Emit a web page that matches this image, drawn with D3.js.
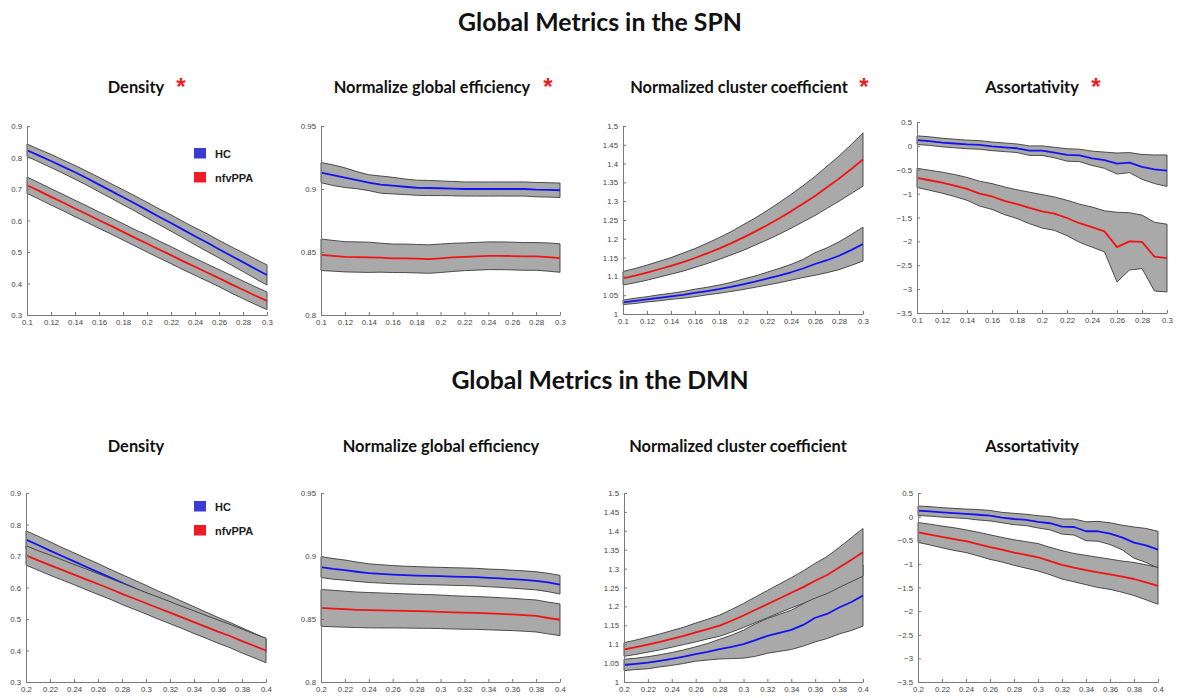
<!DOCTYPE html>
<html>
<head>
<meta charset="utf-8">
<script src="https://cdn.jsdelivr.net/npm/d3@7"></script>
<style>
  html, body { margin: 0; padding: 0; background: #fff; }
  svg { display: block; }
</style>
</head>
<body>
<div id="chart"></div>
<script>
// ── Data ────────────────────────────────────────────────────────────────
// sparsity thresholds
const X_SPN = [0.10, 0.11, 0.12, 0.13, 0.14, 0.15, 0.16, 0.17, 0.18, 0.19, 0.20,
               0.21, 0.22, 0.23, 0.24, 0.25, 0.26, 0.27, 0.28, 0.29, 0.30];
const X_DMN = [0.20, 0.21, 0.22, 0.23, 0.24, 0.25, 0.26, 0.27, 0.28, 0.29, 0.30,
               0.31, 0.32, 0.33, 0.34, 0.35, 0.36, 0.37, 0.38, 0.39, 0.40];

const X_TICKS_SPN = [0.1, 0.12, 0.14, 0.16, 0.18, 0.2, 0.22, 0.24, 0.26, 0.28, 0.3];
const X_TICKS_DMN = [0.2, 0.22, 0.24, 0.26, 0.28, 0.3, 0.32, 0.34, 0.36, 0.38, 0.4];
const Y_TICKS_DENS = [0.3, 0.4, 0.5, 0.6, 0.7, 0.8, 0.9];
const Y_TICKS_EFF  = [0.8, 0.85, 0.9, 0.95];
const Y_TICKS_CLU  = [1, 1.05, 1.1, 1.15, 1.2, 1.25, 1.3, 1.35, 1.4, 1.45, 1.5];
const Y_TICKS_ASS  = [-3.5, -3, -2.5, -2, -1.5, -1, -0.5, 0, 0.5];

const GROUPS = ["HC", "nfvPPA"];

// SPN — density
const spnDensHC     = [0.823, 0.806, 0.789, 0.771, 0.753, 0.734, 0.714, 0.694, 0.674, 0.654, 0.633,
                       0.612, 0.592, 0.571, 0.550, 0.530, 0.509, 0.488, 0.468, 0.447, 0.427];
const spnDensHCErr  = [0.020, 0.020, 0.021, 0.021, 0.022, 0.022, 0.023, 0.023, 0.024, 0.024, 0.025,
                       0.025, 0.026, 0.026, 0.027, 0.028, 0.028, 0.029, 0.030, 0.031, 0.032];
const spnDensPPA    = [0.712, 0.694, 0.675, 0.657, 0.638, 0.620, 0.601, 0.583, 0.564, 0.545, 0.527,
                       0.508, 0.490, 0.471, 0.453, 0.435, 0.417, 0.398, 0.380, 0.362, 0.345];
const spnDensPPAErr = [0.026, 0.026, 0.026, 0.026, 0.026, 0.026, 0.026, 0.026, 0.026, 0.026, 0.027,
                       0.027, 0.027, 0.027, 0.027, 0.027, 0.027, 0.028, 0.028, 0.028, 0.028];

// SPN — normalized global efficiency
const spnEffHC      = [0.9130, 0.9110, 0.9090, 0.9070, 0.9050, 0.9035, 0.9027, 0.9018, 0.9010, 0.9008, 0.9006,
                       0.9003, 0.9000, 0.9000, 0.9000, 0.9000, 0.9000, 0.9000, 0.8995, 0.8993, 0.8990];
const spnEffHCErr   = [0.0080, 0.0082, 0.0078, 0.0068, 0.0063, 0.0068, 0.0066, 0.0062, 0.0060, 0.0060, 0.0058,
                       0.0057, 0.0056, 0.0056, 0.0056, 0.0056, 0.0056, 0.0056, 0.0057, 0.0057, 0.0057];
const spnEffPPA     = [0.8478, 0.8470, 0.8462, 0.8460, 0.8458, 0.8455, 0.8450, 0.8450, 0.8447, 0.8444, 0.8450,
                       0.8457, 0.8462, 0.8466, 0.8470, 0.8470, 0.8468, 0.8465, 0.8465, 0.8460, 0.8452];
const spnEffPPAErr  = [0.0125, 0.0122, 0.0120, 0.0120, 0.0120, 0.0115, 0.0113, 0.0113, 0.0113, 0.0113, 0.0113,
                       0.0112, 0.0110, 0.0110, 0.0110, 0.0110, 0.0110, 0.0110, 0.0110, 0.0112, 0.0113];

// SPN — normalized cluster coefficient
const spnCluHC      = [1.031, 1.035, 1.039, 1.043, 1.047, 1.051, 1.056, 1.061, 1.066, 1.072, 1.079,
                       1.086, 1.094, 1.102, 1.111, 1.121, 1.133, 1.143, 1.155, 1.170, 1.186];
const spnCluHCErr   = [0.006, 0.007, 0.007, 0.008, 0.008, 0.009, 0.010, 0.010, 0.011, 0.012, 0.014,
                       0.015, 0.017, 0.019, 0.021, 0.024, 0.030, 0.033, 0.037, 0.041, 0.045];
const spnCluPPA     = [1.095, 1.102, 1.110, 1.119, 1.128, 1.138, 1.149, 1.161, 1.174, 1.188, 1.203,
                       1.219, 1.236, 1.254, 1.273, 1.293, 1.314, 1.337, 1.360, 1.385, 1.411];
const spnCluPPAErr  = [0.018, 0.019, 0.020, 0.021, 0.022, 0.024, 0.025, 0.027, 0.029, 0.031, 0.034,
                       0.036, 0.039, 0.042, 0.045, 0.048, 0.052, 0.056, 0.060, 0.065, 0.071];

// SPN — assortativity
const spnAssHC      = [0.12, 0.10, 0.07, 0.05, 0.03, 0.02, -0.01, -0.03, -0.05, -0.10, -0.10,
                       -0.14, -0.19, -0.20, -0.26, -0.30, -0.37, -0.35, -0.44, -0.49, -0.52];
const spnAssHCErr   = [0.09, 0.09, 0.09, 0.09, 0.09, 0.09, 0.09, 0.09, 0.09, 0.10, 0.10,
                       0.11, 0.13, 0.13, 0.15, 0.17, 0.22, 0.21, 0.26, 0.30, 0.33];
const spnAssPPA     = [-0.67, -0.72, -0.77, -0.83, -0.90, -1.00, -1.06, -1.15, -1.22, -1.30, -1.37,
                       -1.42, -1.51, -1.62, -1.70, -1.79, -2.12, -2.00, -2.01, -2.32, -2.35];
const spnAssPPAErr  = [0.20, 0.21, 0.22, 0.23, 0.24, 0.26, 0.27, 0.29, 0.30, 0.33, 0.35,
                       0.35, 0.37, 0.40, 0.42, 0.43, 0.73, 0.60, 0.56, 0.72, 0.71];

// DMN — density
const dmnDensHC     = [0.752, 0.735, 0.717, 0.700, 0.683, 0.666, 0.649, 0.632, 0.615, 0.598, 0.581,
                       0.564, 0.548, 0.531, 0.514, 0.498, 0.481, 0.465, 0.448, 0.432, 0.415];
const dmnDensHCErr  = [0.028, 0.028, 0.028, 0.027, 0.027, 0.027, 0.027, 0.026, 0.026, 0.026, 0.026,
                       0.025, 0.025, 0.025, 0.025, 0.024, 0.024, 0.024, 0.024, 0.023, 0.023];
const dmnDensPPA    = [0.702, 0.686, 0.671, 0.656, 0.641, 0.626, 0.611, 0.596, 0.580, 0.565, 0.550,
                       0.535, 0.520, 0.505, 0.490, 0.475, 0.460, 0.446, 0.430, 0.415, 0.400];
const dmnDensPPAErr = [0.031, 0.031, 0.032, 0.032, 0.032, 0.033, 0.033, 0.033, 0.034, 0.034, 0.034,
                       0.035, 0.035, 0.035, 0.036, 0.036, 0.037, 0.037, 0.038, 0.038, 0.039];

// DMN — normalized global efficiency
const dmnEffHC      = [0.8912, 0.8898, 0.8888, 0.8875, 0.8864, 0.8858, 0.8852, 0.8848, 0.8845, 0.8842, 0.8840,
                       0.8837, 0.8835, 0.8832, 0.8826, 0.8822, 0.8816, 0.8810, 0.8803, 0.8790, 0.8772];
const dmnEffHCErr   = [0.0083, 0.0082, 0.0080, 0.0077, 0.0074, 0.0073, 0.0072, 0.0071, 0.0071, 0.0070, 0.0070,
                       0.0070, 0.0070, 0.0070, 0.0070, 0.0071, 0.0071, 0.0072, 0.0072, 0.0073, 0.0074];
const dmnEffPPA     = [0.8588, 0.8583, 0.8578, 0.8573, 0.8570, 0.8568, 0.8566, 0.8564, 0.8562, 0.8560, 0.8557,
                       0.8553, 0.8550, 0.8548, 0.8544, 0.8540, 0.8536, 0.8530, 0.8524, 0.8508, 0.8494];
const dmnEffPPAErr  = [0.0146, 0.0145, 0.0143, 0.0141, 0.0140, 0.0139, 0.0137, 0.0136, 0.0135, 0.0134, 0.0133,
                       0.0132, 0.0131, 0.0130, 0.0130, 0.0129, 0.0128, 0.0127, 0.0127, 0.0126, 0.0126];

// DMN — normalized cluster coefficient
const dmnCluHC      = [1.045, 1.048, 1.051, 1.056, 1.061, 1.067, 1.074, 1.080, 1.087, 1.093, 1.100,
                       1.111, 1.122, 1.130, 1.138, 1.151, 1.170, 1.180, 1.197, 1.211, 1.229];
const dmnCluHCErr   = [0.015, 0.015, 0.016, 0.016, 0.017, 0.018, 0.019, 0.022, 0.026, 0.031, 0.037,
                       0.043, 0.046, 0.049, 0.052, 0.056, 0.064, 0.065, 0.070, 0.075, 0.081];
const dmnCluPPA     = [1.086, 1.092, 1.099, 1.106, 1.114, 1.122, 1.131, 1.140, 1.149, 1.162, 1.176,
                       1.191, 1.206, 1.221, 1.236, 1.251, 1.268, 1.283, 1.303, 1.323, 1.343];
const dmnCluPPAErr  = [0.018, 0.019, 0.020, 0.021, 0.022, 0.023, 0.025, 0.026, 0.028, 0.030, 0.032,
                       0.034, 0.036, 0.038, 0.040, 0.043, 0.046, 0.049, 0.053, 0.058, 0.063];

// DMN — assortativity
const dmnAssHC      = [0.125, 0.110, 0.090, 0.075, 0.060, 0.040, 0.020, -0.020, -0.050, -0.070, -0.110,
                       -0.140, -0.210, -0.220, -0.310, -0.310, -0.360, -0.440, -0.550, -0.610, -0.700];
const dmnAssHCErr   = [0.10, 0.10, 0.10, 0.10, 0.10, 0.11, 0.11, 0.11, 0.12, 0.12, 0.13,
                       0.14, 0.16, 0.17, 0.20, 0.21, 0.23, 0.26, 0.33, 0.36, 0.39];
const dmnAssPPA     = [-0.335, -0.380, -0.430, -0.475, -0.520, -0.580, -0.645, -0.700, -0.760, -0.810, -0.860,
                       -0.940, -1.020, -1.080, -1.130, -1.180, -1.220, -1.270, -1.320, -1.390, -1.465];
const dmnAssPPAErr  = [0.21, 0.22, 0.23, 0.24, 0.24, 0.25, 0.26, 0.26, 0.27, 0.28, 0.29,
                       0.29, 0.30, 0.30, 0.31, 0.32, 0.32, 0.33, 0.35, 0.37, 0.39];

// ── Layout / panel config ───────────────────────────────────────────────
const W = 1181, H = 698;
const C_HC_LINE = "#1414f0", C_PPA_LINE = "#f01414";
const C_HC_KEY  = "#3a3ad2", C_PPA_KEY  = "#ee1c24";
const BAND_FILL = "#a9a9a9", BAND_STROKE = "#3c3c3c";

const panels = [
  { title: "Density", star: true, legend: true, tx: 136, sx: 181,
    box: [27, 267, 126, 315], x: X_SPN, xt: X_TICKS_SPN, yt: Y_TICKS_DENS, yd: [0.3, 0.9],
    hc: spnDensHC, hcErr: spnDensHCErr, ppa: spnDensPPA, ppaErr: spnDensPPAErr },
  { title: "Normalize global efficiency", star: true, tx: 432, sx: 548,
    box: [321, 560, 126, 315], x: X_SPN, xt: X_TICKS_SPN, yt: Y_TICKS_EFF, yd: [0.8, 0.95],
    hc: spnEffHC, hcErr: spnEffHCErr, ppa: spnEffPPA, ppaErr: spnEffPPAErr },
  { title: "Normalized cluster coefficient", star: true, tx: 739, sx: 864,
    box: [623, 863, 126, 314], x: X_SPN, xt: X_TICKS_SPN, yt: Y_TICKS_CLU, yd: [1, 1.5],
    hc: spnCluHC, hcErr: spnCluHCErr, ppa: spnCluPPA, ppaErr: spnCluPPAErr },
  { title: "Assortativity", star: true, tx: 1032, sx: 1096,
    box: [917, 1167, 122, 313], x: X_SPN, xt: X_TICKS_SPN, yt: Y_TICKS_ASS, yd: [-3.5, 0.5],
    hc: spnAssHC, hcErr: spnAssHCErr, ppa: spnAssPPA, ppaErr: spnAssPPAErr },

  { title: "Density", legend: true, tx: 136,
    box: [26, 266, 493, 682], x: X_DMN, xt: X_TICKS_DMN, yt: Y_TICKS_DENS, yd: [0.3, 0.9],
    hc: dmnDensHC, hcErr: dmnDensHCErr, ppa: dmnDensPPA, ppaErr: dmnDensPPAErr },
  { title: "Normalize global efficiency", tx: 441,
    box: [321, 560, 493, 682], x: X_DMN, xt: X_TICKS_DMN, yt: Y_TICKS_EFF, yd: [0.8, 0.95],
    hc: dmnEffHC, hcErr: dmnEffHCErr, ppa: dmnEffPPA, ppaErr: dmnEffPPAErr },
  { title: "Normalized cluster coefficient", tx: 738,
    box: [624, 863, 493, 682], x: X_DMN, xt: X_TICKS_DMN, yt: Y_TICKS_CLU, yd: [1, 1.5],
    hc: dmnCluHC, hcErr: dmnCluHCErr, ppa: dmnCluPPA, ppaErr: dmnCluPPAErr },
  { title: "Assortativity", tx: 1032,
    box: [918, 1158, 493, 682], x: X_DMN, xt: X_TICKS_DMN, yt: Y_TICKS_ASS, yd: [-3.5, 0.5],
    hc: dmnAssHC, hcErr: dmnAssHCErr, ppa: dmnAssPPA, ppaErr: dmnAssPPAErr }
];

// ── SVG ─────────────────────────────────────────────────────────────────
const svg = d3.select("#chart").append("svg")
    .attr("width", W)
    .attr("height", H);

const TITLE_FONT = "Lato, 'Open Sans', sans-serif";
const TICK_FONT  = "'Liberation Sans', Arial, sans-serif";

// Section headings
svg.append("text")
    .attr("x", 600).attr("y", 31)
    .attr("text-anchor", "middle")
    .style("font-family", TITLE_FONT)
    .style("font-weight", "700")
    .style("font-size", "24.8px")
    .style("fill", "#111")
    .text("Global Metrics in the SPN");

svg.append("text")
    .attr("x", 600).attr("y", 389)
    .attr("text-anchor", "middle")
    .style("font-family", TITLE_FONT)
    .style("font-weight", "700")
    .style("font-size", "24.8px")
    .style("fill", "#111")
    .text("Global Metrics in the DMN");

const fmt = d3.format("~g");

panels.forEach((p, i) => {
    const [x0, x1, y0, y1] = p.box;
    const row = i < 4 ? 0 : 1;

    const xScale = d3.scaleLinear().domain(d3.extent(p.x)).range([x0, x1]);
    const yScale = d3.scaleLinear().domain(p.yd).range([y1, y0]);

    const g = svg.append("g").attr("class", "panel");

    // panel title
    g.append("text")
        .attr("x", p.tx)
        .attr("y", row === 0 ? 93 : 452)
        .attr("text-anchor", "middle")
        .style("font-family", TITLE_FONT)
        .style("font-weight", "700")
        .style("font-size", "16.4px")
        .style("fill", "#111")
        .text(p.title);

    if (p.star) {
        g.append("text")
            .attr("x", p.sx).attr("y", 95)
            .attr("text-anchor", "middle")
            .style("font-family", TICK_FONT)
            .style("font-weight", "700")
            .style("font-size", "24px")
            .style("fill", "#ee1c24")
            .text("*");
    }

    // bands + mean lines (HC first, nfvPPA drawn on top)
    const series = [
        { m: p.hc,  e: p.hcErr,  c: C_HC_LINE },
        { m: p.ppa, e: p.ppaErr, c: C_PPA_LINE }
    ];

    series.forEach(s => {
        const pts = p.x.map((xv, k) => ({ x: xv, m: s.m[k], e: s.e[k] }));

        const area = d3.area()
            .x(d => xScale(d.x))
            .y0(d => yScale(d.m - d.e))
            .y1(d => yScale(d.m + d.e));

        const line = d3.line()
            .x(d => xScale(d.x))
            .y(d => yScale(d.m));

        g.append("path")
            .datum(pts)
            .attr("d", area)
            .style("fill", BAND_FILL)
            .style("stroke", BAND_STROKE)
            .style("stroke-width", 0.9)
            .style("stroke-linejoin", "round");

        g.append("path")
            .datum(pts)
            .attr("d", line)
            .style("fill", "none")
            .style("stroke", s.c)
            .style("stroke-width", 1.8)
            .style("stroke-linejoin", "round");
    });

    // axes (MATLAB style: inward ticks, box off)
    const xAxis = g.append("g")
        .attr("transform", `translate(0,${y1})`)
        .call(d3.axisBottom(xScale).tickValues(p.xt).tickFormat(fmt)
            .tickSizeInner(-3).tickSizeOuter(0).tickPadding(4));

    const yAxis = g.append("g")
        .attr("transform", `translate(${x0},0)`)
        .call(d3.axisLeft(yScale).tickValues(p.yt).tickFormat(fmt)
            .tickSizeInner(-3).tickSizeOuter(0).tickPadding(5));

    [xAxis, yAxis].forEach(ax => {
        ax.select(".domain").style("stroke", "#7a7a7a").style("stroke-width", 1);
        ax.selectAll(".tick line").style("stroke", "#7a7a7a");
        ax.selectAll("text")
            .style("font-family", TICK_FONT)
            .style("font-size", "7.8px")
            .style("fill", "#444");
    });

    // legend
    if (p.legend) {
        const ly = row === 0 ? 148 : 501;
        const lg = g.append("g").attr("transform", `translate(194,${ly})`);
        GROUPS.forEach((name, k) => {
            lg.append("rect")
                .attr("x", 0).attr("y", k * 24)
                .attr("width", 12).attr("height", 10.5)
                .style("fill", k === 0 ? C_HC_KEY : C_PPA_KEY);
            lg.append("text")
                .attr("x", 21).attr("y", k * 24 + 10)
                .style("font-family", TICK_FONT)
                .style("font-weight", "700")
                .style("font-size", "11px")
                .style("fill", "#222")
                .text(name);
        });
    }
});
</script>
</body>
</html>
